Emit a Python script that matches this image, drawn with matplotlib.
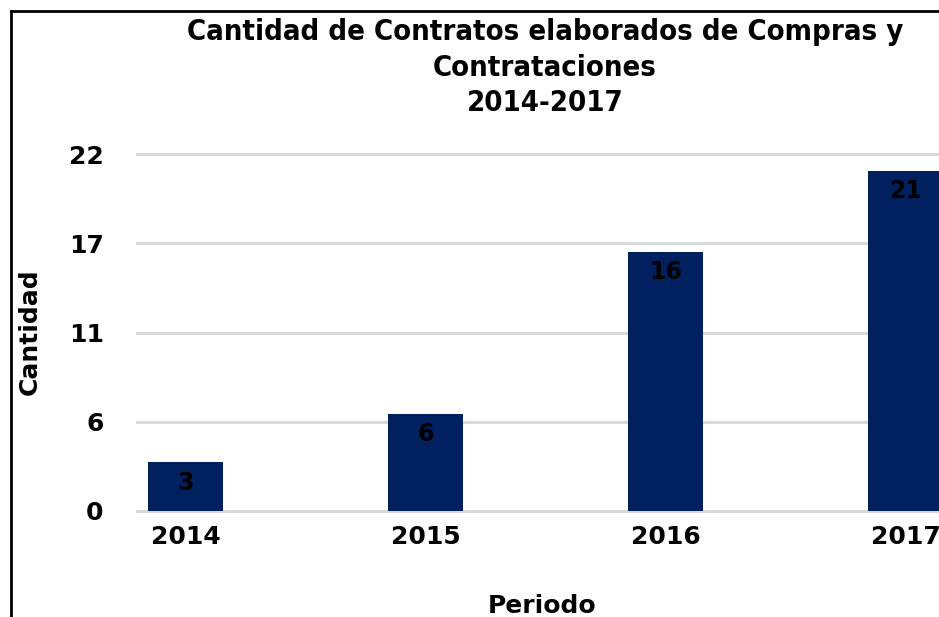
import matplotlib
matplotlib.use("Agg")
import matplotlib.pyplot as plt
from matplotlib.lines import Line2D

categories = ["2014", "2015", "2016", "2017"]
values = [3, 6, 16, 21]
ytick_values = [0, 5.5, 11, 16.5, 22]
ytick_labels = ["0", "6", "11", "17", "22"]
title_lines = ["Cantidad de Contratos elaborados de Compras y", "Contrataciones", "2014-2017"]

W, H = 939, 617
fig = plt.figure(figsize=(W / 100, H / 100), dpi=100)
fig.patch.set_facecolor("white")

# axes placement in pixels
x0, x1 = 137, 939
y0, y1 = 511, 154.3
ax = fig.add_axes([x0 / W, 1 - y0 / H, (x1 - x0) / W, (y0 - y1) / H])

xs = list(range(len(categories)))
bar_color = "#002060"
ax.bar(xs, values, width=0.3125, color=bar_color, zorder=3)
ax.set_xlim((x0 - 185.5) / 240, (x1 - 185.5) / 240)
ax.set_ylim(0, 22)

ax.set_yticks(ytick_values)
ax.set_yticklabels(ytick_labels, fontsize=18, fontweight="bold")
ax.set_xticks(xs)
ax.set_xticklabels(categories, fontsize=18, fontweight="bold")
ax.tick_params(axis="both", length=0)
ax.tick_params(axis="y", pad=24)
ax.tick_params(axis="x", pad=10)
for s in ax.spines.values():
    s.set_visible(False)
ax.grid(axis="y", color="#d9d9d9", linewidth=2.2, zorder=0)
ax.set_axisbelow(True)
for gl in ax.get_ygridlines():
    gl.set_clip_on(False)

for x, v in zip(xs, values):
    ax.annotate(str(v), (x, v), xytext=(0, -6), textcoords="offset points",
                ha="center", va="top", fontsize=17, fontweight="bold", color="black", zorder=4)

# title
title_y = [40, 76, 111]
for t, yy in zip(title_lines, title_y):
    fig.text(545 / W, 1 - yy / H, t, ha="center", va="baseline", fontsize=21,
             fontweight="bold", fontstretch="condensed")

fig.text(30 / W, 1 - 332 / H, "Cantidad", rotation=90, ha="center", va="center",
         fontsize=18, fontweight="bold")
fig.text(542 / W, 1 - 606 / H, "Periodo", ha="center", va="center",
         fontsize=18, fontweight="bold")

# border
fig.add_artist(Line2D([11 / W, 11 / W], [0, 1 - 10.5 / H], transform=fig.transFigure,
                      color="black", linewidth=2, solid_capstyle="projecting"))
fig.add_artist(Line2D([11 / W, 1], [1 - 10.5 / H, 1 - 10.5 / H], transform=fig.transFigure,
                      color="black", linewidth=2, solid_capstyle="projecting"))

fig.savefig("out.png", dpi=100, facecolor="white")
